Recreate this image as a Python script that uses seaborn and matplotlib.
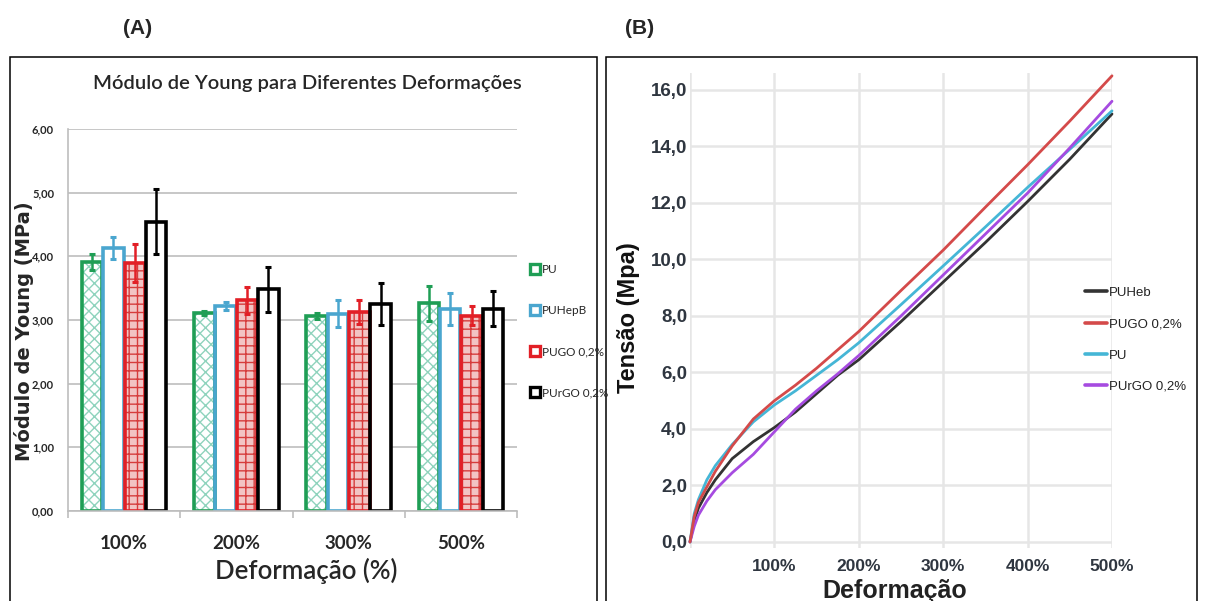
import matplotlib
matplotlib.use("Agg")
import matplotlib.pyplot as plt
import seaborn as sns
import pandas as pd
from matplotlib.patches import Rectangle
from matplotlib.lines import Line2D
from matplotlib.ticker import FuncFormatter

# ---- (A) Young's modulus per strain level ----
categories = ["100%", "200%", "300%", "500%"]
materials = ["PU", "PUHepB", "PUGO 0,2%", "PUrGO 0,2%"]
young_pu = [3.91, 3.11, 3.06, 3.26]
young_hepb = [4.13, 3.22, 3.10, 3.17]
young_go = [3.89, 3.31, 3.12, 3.07]
young_rgo = [4.54, 3.48, 3.25, 3.18]
err_pu = [0.13, 0.03, 0.05, 0.27]
err_hepb = [0.17, 0.07, 0.21, 0.25]
err_go = [0.30, 0.21, 0.19, 0.15]
err_rgo = [0.51, 0.36, 0.33, 0.28]

# ---- (B) stress-strain curves ----
strain = [0, 5, 10, 20, 30, 50, 75, 100, 125, 150, 175, 200, 250, 300, 350, 400, 450, 500]
stress_puheb = [0, 0.75, 1.2, 1.75, 2.2, 2.95, 3.55, 4.05, 4.6, 5.25, 5.9, 6.45, 7.8, 9.2, 10.6, 12.05, 13.55, 15.15]
stress_pugo = [0, 0.9, 1.4, 1.95, 2.5, 3.4, 4.35, 5.0, 5.55, 6.15, 6.8, 7.45, 8.9, 10.33, 11.85, 13.35, 14.9, 16.5]
stress_pu = [0, 1.0, 1.5, 2.2, 2.7, 3.45, 4.25, 4.85, 5.35, 5.9, 6.45, 7.05, 8.4, 9.77, 11.15, 12.55, 13.9, 15.26]
stress_purgo = [0, 0.55, 0.95, 1.45, 1.85, 2.45, 3.1, 3.9, 4.7, 5.35, 5.95, 6.6, 8.0, 9.45, 10.9, 12.35, 13.95, 15.6]
curve_labels = ["PUHeb", "PUGO 0,2%", "PU", "PUrGO 0,2%"]

sns.set_theme(style="white")
plt.rcParams["font.family"] = ["Liberation Sans", "DejaVu Sans"]
plt.rcParams["hatch.linewidth"] = 1.0

W, H = 1207, 601
fig = plt.figure(figsize=(W / 100, H / 100), dpi=100)


def fx(px):
    return px / W


def fy(py):
    return 1 - py / H


# panel frames
for x0, x1 in [(10, 597), (606, 1197)]:
    fig.add_artist(Rectangle((fx(x0), -0.02), fx(x1) - fx(x0), fy(57) + 0.02,
                             transform=fig.transFigure, fill=False, lw=1.1, ec="black"))
fig.text(fx(138), fy(28), "(A)", ha="center", va="center", fontsize=15, fontweight="bold")
fig.text(fx(640), fy(28), "(B)", ha="center", va="center", fontsize=15, fontweight="bold")

# ================= panel A =================
axA = fig.add_axes([fx(68), fy(511), fx(517) - fx(68), fy(129) - fy(511)])
values = [young_pu, young_hepb, young_go, young_rgo]
errors = [err_pu, err_hepb, err_go, err_rgo]
rows = []
for m, vals in zip(materials, values):
    for c, v in zip(categories, vals):
        rows.append({"Deformação": c, "Módulo": v, "Amostra": m})
dfA = pd.DataFrame(rows)

edge_cols = ["#1f9e55", "#4aa6cf", "#e21f26", "#000000"]
face_cols = ["white", "white", "#f2c4c4", "white"]
hatch_cols = ["#8fd3bd", "white", "#d63c3c", "white"]
hatches = ["xxx", "", "++", ""]

sns.barplot(data=dfA, x="Deformação", y="Módulo", hue="Amostra", order=categories,
            hue_order=materials, palette=edge_cols, width=0.76, gap=0.04,
            errorbar=None, legend=False, ax=axA)

bar_groups = list(axA.containers)
for i, cont in enumerate(bar_groups):
    for bar in cont:
        bar.set_facecolor(face_cols[i])
        bar.set_hatch(hatches[i])
        bar.set_edgecolor(hatch_cols[i])
        bar.set_linewidth(0)
        axA.add_patch(Rectangle(bar.get_xy(), bar.get_width(), bar.get_height(), fill=False,
                                ec=edge_cols[i], lw=2.6, zorder=bar.get_zorder() + 0.1))
        xc = bar.get_x() + bar.get_width() / 2
        j = int(round(xc))
        axA.errorbar(xc, values[i][j], yerr=errors[i][j], fmt="none", ecolor=edge_cols[i],
                     elinewidth=1.8, capsize=2.5, capthick=2.2, zorder=5)

axA.set_xlim(-0.5, 3.5)
axA.set_ylim(0, 6)
axA.set_yticks(range(0, 7))
axA.yaxis.set_major_formatter(FuncFormatter(lambda v, p: f"{v:.2f}".replace(".", ",")))
axA.yaxis.grid(True, color="#bdbdbd", lw=1.2)
axA.set_axisbelow(True)
for s in ["top", "right"]:
    axA.spines[s].set_visible(False)
for s in ["left", "bottom"]:
    axA.spines[s].set_color("#bdbdbd")
    axA.spines[s].set_linewidth(1.2)
axA.set_xticks([-0.5, 0.5, 1.5, 2.5, 3.5], minor=True)
axA.tick_params(axis="x", which="minor", length=5, color="#bdbdbd", width=1.2, bottom=True)
axA.tick_params(axis="x", which="major", length=0, pad=17)
axA.tick_params(axis="y", length=0, pad=10)
for t in axA.get_xticklabels():
    t.set_fontfamily(["Lato", "DejaVu Sans"])
    t.set_fontsize(13.5)
    t.set_fontweight("bold")
for t in axA.get_yticklabels():
    t.set_fontfamily(["Lato", "DejaVu Sans"])
    t.set_fontsize(8)
    t.set_fontweight("bold")

axA.set_xlabel("Deformação (%)", fontsize=18.5, fontweight="semibold",
               family=["Lato", "DejaVu Sans"])
axA.xaxis.set_label_coords(0.53, -0.122)
axA.set_ylabel("Módulo de Young (MPa)", fontsize=14, fontweight="bold",
               family=["DejaVu Sans"])
axA.yaxis.set_label_coords(-0.076, 0.47)
fig.text(fx(307), fy(83), "Módulo de Young para Diferentes Deformações", ha="center",
         va="center", fontsize=14.5, fontweight="semibold", family=["Lato", "DejaVu Sans"])

legA = [Line2D([], [], marker="s", ls="none", markersize=7, markerfacecolor="white",
               markeredgecolor=c, markeredgewidth=2.4) for c in edge_cols]
fig.legend(legA, materials, loc="upper left", bbox_to_anchor=(fx(524), fy(258)),
           frameon=False, labelspacing=2.55, handlelength=0.8,
           handletextpad=0.25, borderpad=0, prop={"family": ["Lato", "DejaVu Sans"], "size": 8.5})

# ================= panel B =================
axB = fig.add_axes([fx(690), fy(547.6), (1112 - 690) / W, (547.6 - 73) / H])
curve_values = [stress_puheb, stress_pugo, stress_pu, stress_purgo]
rowsB = []
for lab, ys in zip(curve_labels, curve_values):
    for x, y in zip(strain, ys):
        rowsB.append({"Deformação": x, "Tensão": y, "Amostra": lab})
dfB = pd.DataFrame(rowsB)
curve_cols = {"PUHeb": "#333333", "PUGO 0,2%": "#d44a4a", "PU": "#45b6d6", "PUrGO 0,2%": "#a64be0"}
draw_order = ["PUHeb", "PU", "PUrGO 0,2%", "PUGO 0,2%"]
sns.lineplot(data=dfB, x="Deformação", y="Tensão", hue="Amostra", hue_order=draw_order,
             palette=curve_cols, lw=2.0, estimator=None, sort=False, legend=False, ax=axB)
for ln in axB.lines:
    ln.set_clip_on(False)

axB.set_xlim(0, 500)
axB.set_ylim(-0.2, 16.6)
axB.set_xticks([0, 100, 200, 300, 400, 500])
axB.set_xticklabels(["", "100%", "200%", "300%", "400%", "500%"])
axB.set_yticks(range(0, 17, 2))
axB.yaxis.set_major_formatter(FuncFormatter(lambda v, p: f"{v:.1f}".replace(".", ",")))
axB.grid(True, color="#e6e6e6", lw=1.8)
axB.set_axisbelow(True)
for s in axB.spines.values():
    s.set_visible(False)
axB.tick_params(axis="x", length=0, pad=8, labelsize=12.5, labelcolor="#2f3640")
axB.tick_params(axis="y", length=0, pad=2, labelsize=13.5, labelcolor="#2f3640")
for t in axB.get_xticklabels() + axB.get_yticklabels():
    t.set_fontweight("bold")
axB.set_xlabel("Deformação", fontsize=18, fontweight="bold", color="#222222")
axB.xaxis.set_label_coords(0.486, -0.066)
axB.set_ylabel("Tensão (Mpa)", fontsize=17, fontweight="bold", color="#111111")
axB.yaxis.set_label_coords(-0.118, 0.484)

legB_handles = [Line2D([], [], color=curve_cols[k], lw=2.6) for k in curve_labels]
fig.legend(legB_handles, curve_labels, loc="upper left", bbox_to_anchor=(fx(1078), fy(280)),
           frameon=False, fontsize=9.5, labelspacing=1.45, handlelength=1.7,
           handletextpad=0.15, borderpad=0, labelcolor="#222222")

fig.savefig("out.png", dpi=100)
